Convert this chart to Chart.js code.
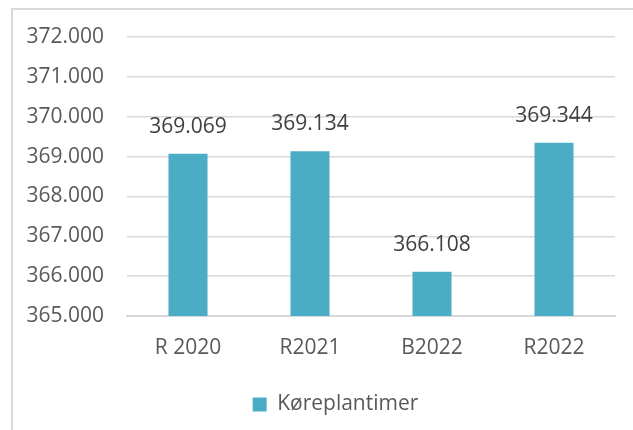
<!DOCTYPE html>
<html>
<head>
<meta charset="utf-8">
<script src="https://cdn.jsdelivr.net/npm/chart.js@4/dist/chart.umd.min.js"></script>
<style>
  html, body { margin: 0; padding: 0; background: #fff; overflow: hidden; }
  #wrap { position: relative; width: 633px; height: 430px; }
</style>
</head>
<body>
<div id="wrap"><canvas id="chart" width="633" height="430"></canvas></div>
<script>
// data
const categories = ['R 2020', 'R2021', 'B2022', 'R2022'];
const koereplantimer = [369069, 369134, 366108, 369344];
const yMin = 365000;
const yMax = 372000;
const yStep = 1000;

const textColor = '#595959';
const gridColor = '#d9d9d9';
const barColor = '#4bacc6';
const font = { family: '"Open Sans", sans-serif', size: 21 };

// 369069 -> "369.069"
function fmt(v) {
    const k = Math.floor(v / 1000);
    return k + '.' + String(Math.round(v % 1000)).padStart(3, '0');
}

// outer frame, cut off at right/bottom like the screenshot
const framePlugin = {
    id: 'frame',
    beforeDraw(chart) {
        const ctx = chart.ctx;
        ctx.save();
        ctx.fillStyle = '#fff';
        ctx.fillRect(0, 0, chart.width, chart.height);
        ctx.strokeStyle = gridColor;
        ctx.lineWidth = 2;
        ctx.beginPath();
        ctx.moveTo(12, chart.height + 5);
        ctx.lineTo(12, 9);
        ctx.lineTo(chart.width + 5, 9);
        ctx.stroke();
        ctx.restore();
    },
    // legend sits a bit right of the canvas centre in the original
    afterLayout(chart) {
        if (chart.legend) {
            chart.legend.left += 28;
            chart.legend.right += 28;
        }
    }
};

// value labels above bars
const valueLabels = {
    id: 'valueLabels',
    afterDatasetsDraw(chart) {
        const ctx = chart.ctx;
        ctx.save();
        ctx.font = font.size + 'px ' + font.family;
        ctx.fillStyle = '#404040';
        ctx.textAlign = 'center';
        ctx.textBaseline = 'middle';
        chart.getDatasetMeta(0).data.forEach((bar, i) => {
            ctx.fillText(fmt(koereplantimer[i]), bar.x, bar.y - 27);
        });
        ctx.restore();
    }
};

var chart = new Chart(document.getElementById('chart').getContext('2d'), {
    type: 'bar',
    data: {
        labels: categories,
        datasets: [{
            label: 'Køreplantimer',
            data: koereplantimer,
            backgroundColor: barColor,
            borderWidth: 0,
            categoryPercentage: 1,
            barPercentage: 0.32
        }]
    },
    options: {
        responsive: false,
        animation: false,
        layout: { padding: { left: 0, right: 18, top: 37, bottom: 5 } },
        scales: {
            x: {
                grid: { display: false, drawTicks: false },
                border: { color: gridColor, width: 2 },
                ticks: { color: textColor, font: font, padding: 19 },
                afterFit: (s) => { s.height = 68; }
            },
            y: {
                min: yMin,
                max: yMax,
                grid: { color: gridColor, lineWidth: 1.5, drawTicks: false },
                border: { display: false },
                ticks: {
                    stepSize: yStep,
                    color: textColor,
                    font: font,
                    padding: 23,
                    callback: (v) => fmt(v)
                },
                afterFit: (s) => { s.width = 127; }
            }
        },
        plugins: {
            legend: {
                position: 'bottom',
                labels: {
                    color: textColor,
                    font: font,
                    boxWidth: 14,
                    boxHeight: 14,
                    padding: 10
                }
            },
            tooltip: { enabled: false }
        }
    },
    plugins: [framePlugin, valueLabels]
});
</script>
</body>
</html>
